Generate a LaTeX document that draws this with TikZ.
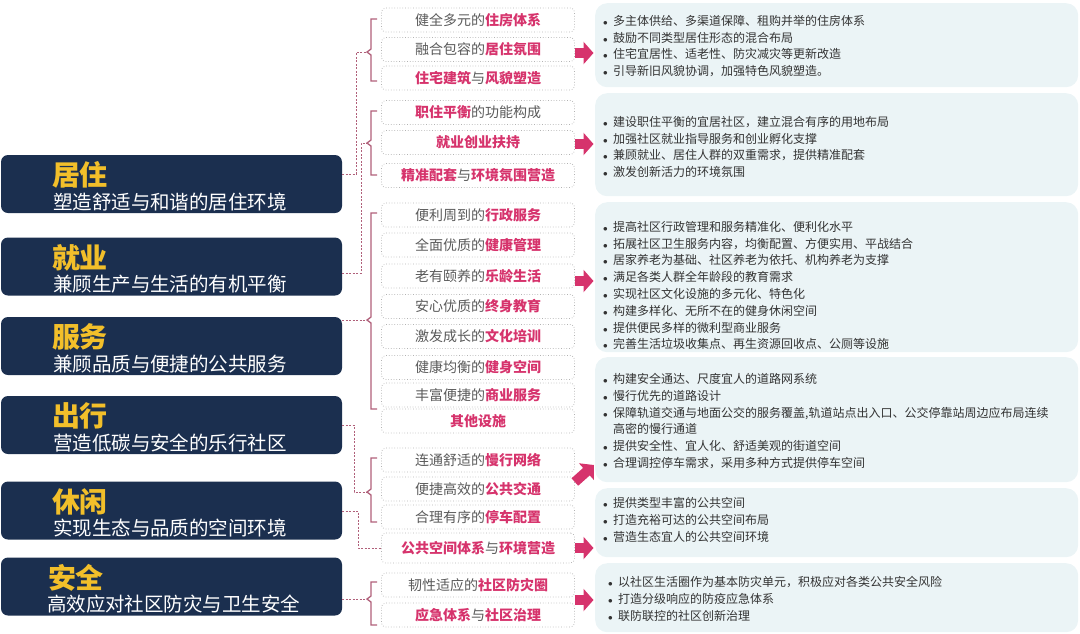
\documentclass[tikz,border=0pt]{standalone}
\usepackage{fontspec}
\setmainfont{Noto Sans CJK SC}
\usetikzlibrary{arrows.meta}
\definecolor{navy}{HTML}{1B2F4F}
\definecolor{gold}{HTML}{F2BF2A}
\definecolor{rose}{HTML}{D6336C}
\definecolor{mauve}{HTML}{B0607A}
\definecolor{itemgray}{HTML}{5A5A5A}
\definecolor{notegray}{HTML}{333333}
\definecolor{panelbg}{HTML}{EBF4F6}
\newcommand{\hl}[1]{{\bfseries\color{rose}#1}}
\newcommand{\bl}{\makebox[10pt][l]{\fontsize{9}{9}\selectfont$\bullet$}}
\def\grpbrace(#1:#2:#3){\draw[brace] (377,#1) -- (371,#1) -- (371,#2-3) -- (367,#2) -- (371,#2+3) -- (371,#3) -- (377,#3);}

\tikzset{
	theme/.style={rectangle, fill=navy, rounded corners=7pt, minimum width=341pt, minimum height=58pt, inner sep=0},
	ttl/.style={anchor=west, inner sep=0, text=gold, font=\fontsize{28}{28}\selectfont\bfseries},
	sub/.style={anchor=west, inner sep=0, text=white, font=\fontsize{19.5}{20}\selectfont},
	item/.style={rectangle, draw=black!30, dotted, line width=0.7pt, rounded corners=4pt, minimum width=193pt, minimum height=24pt, inner sep=0, text=itemgray, font=\fontsize{14}{16}\selectfont},
	panel/.style={rectangle, fill=panelbg, rounded corners=12pt, anchor=north west, minimum width=483pt, inner sep=0},
	note/.style={anchor=north west, align=left, inner sep=0, text=notegray, font=\fontsize{12}{16.8}\selectfont},
	brace/.style={draw=mauve, line width=1.3pt},
	link/.style={draw=mauve, line width=0.9pt, dash pattern=on 2pt off 1.5pt},
	bigarrow/.style={draw=rose, line width=10pt, shorten >=1.5pt, -{Triangle[length=10pt,width=22pt]}}
}

\begin{document}
\begin{tikzpicture}[x=1pt,y=-1pt]
			%%%%% START %%%%%
			\useasboundingbox (0,0) rectangle (1080,633);
			
			% themes
			\node[theme] (t1) at (171.5,184) {};
			\node[ttl] (t1a) at ([xshift=51pt,yshift=9pt]t1.west) {居住};
			\node[sub] (t1b) at ([xshift=52pt,yshift=-18pt]t1.west) {塑造舒适与和谐的居住环境};
			
			\node[theme] (t2) at (171.5,266.5) {};
			\node[ttl] (t2a) at ([xshift=51pt,yshift=9pt]t2.west) {就业};
			\node[sub] (t2b) at ([xshift=52pt,yshift=-18pt]t2.west) {兼顾生产与生活的有机平衡};
			
			\node[theme] (t3) at (171.5,346) {};
			\node[ttl] (t3a) at ([xshift=51pt,yshift=9pt]t3.west) {服务};
			\node[sub] (t3b) at ([xshift=52pt,yshift=-18pt]t3.west) {兼顾品质与便捷的公共服务};
			
			\node[theme] (t4) at (171.5,425) {};
			\node[ttl] (t4a) at ([xshift=51pt,yshift=9pt]t4.west) {出行};
			\node[sub] (t4b) at ([xshift=52pt,yshift=-18pt]t4.west) {营造低碳与安全的乐行社区};
			
			\node[theme] (t5) at (171.5,510.5) {};
			\node[ttl] (t5a) at ([xshift=51pt,yshift=9pt]t5.west) {休闲};
			\node[sub] (t5b) at ([xshift=52pt,yshift=-18pt]t5.west) {实现生态与品质的空间环境};
			
			\node[theme] (t6) at (171.5,586.5) {};
			\node[ttl] (t6a) at ([xshift=47pt,yshift=9pt]t6.west) {安全};
			\node[sub] (t6b) at ([xshift=46pt,yshift=-18pt]t6.west) {高效应对社区防灾与卫生安全};
			
			% items
			\node[item] (b1) at (478,20) {健全多元的\hl{住房体系}};
			\node[item] (b2) at (478,49.5) {融合包容的\hl{居住氛围}};
			\node[item] (b3) at (478,78) {\hl{住宅建筑}与\hl{风貌塑造}};
			
			\node[item] (b4) at (478,112.5) {\hl{职住平衡}的功能构成};
			\node[item] (b5) at (478,142.5) {\hl{就业创业扶持}};
			\node[item] (b6) at (478,175.5) {\hl{精准配套}与\hl{环境氛围营造}};
			
			\node[item] (b7) at (478,215) {便利周到的\hl{行政服务}};
			\node[item] (b8) at (478,245) {全面优质的\hl{健康管理}};
			\node[item] (b9) at (478,276) {老有颐养的\hl{乐龄生活}};
			\node[item] (b10) at (478,306.5) {安心优质的\hl{终身教育}};
			\node[item] (b11) at (478,336.5) {激发成长的\hl{文化培训}};
			\node[item] (b12) at (478,367.5) {健康均衡的\hl{健身空间}};
			\node[item] (b13) at (478,395) {丰富便捷的\hl{商业服务}};
			\node[item] (b14) at (478,421) {\hl{其他设施}};
			
			\node[item] (b15) at (478,460) {连通舒适的\hl{慢行网络}};
			\node[item] (b16) at (478,489) {便捷高效的\hl{公共交通}};
			\node[item] (b17) at (478,517) {合理有序的\hl{停车配置}};
			
			\node[item, minimum height=30pt] (b18) at (478,548) {\hl{公共空间体系}与\hl{环境营造}};
			
			\node[item] (b19) at (478,585) {韧性适应的\hl{社区防灾圈}};
			\node[item] (b20) at (478,615) {\hl{应急体系}与\hl{社区治理}};
			
			% braces
			\grpbrace(19:52:81);
			\grpbrace(111:143:175);
			\grpbrace(213:320:409);
			\grpbrace(458:492:522);
			\grpbrace(582:599:625);
			\coordinate (g1) at (367,52);
			\coordinate (g2) at (367,143);
			\coordinate (g3) at (367,320);
			\coordinate (g4) at (367,492);
			\coordinate (g5) at (367,599);
			
			% links
			\draw[link] (t1.east |- 0,174) -- ++(14,0) |- (g1);
			\draw[link] (t2.east |- 0,273) -- ++(19,0) |- (g2);
			\draw[link] (t3.east |- 0,320) -- (g3);
			\draw[link] (t4.east |- 0,425) -- ++(12,0) |- (g4);
			\draw[link] (t5.east |- 0,511) -- ++(16,0) |- (b18.west);
			\draw[link] (t6.east |- 0,599) -- (g5);
			
			% panels
			\node[panel, minimum height=84pt] (p1) at (595,3) {};
			\node[panel, minimum height=103pt] (p2) at (595,93) {};
			\node[panel, minimum height=150pt] (p3) at (595,202) {};
			\node[panel, minimum height=125pt] (p4) at (595,357) {};
			\node[panel, minimum height=69pt] (p5) at (595,488) {};
			\node[panel, minimum height=69pt] (p6) at (595,563) {};
			
			\node[note] (n1) at (603,15) {\bl 多主体供给、多渠道保障、租购并举的住房体系\\
				\bl 鼓励不同类型居住形态的混合布局\\
				\bl 住宅宜居性、适老性、防灾减灾等更新改造\\
				\bl 引导新旧风貌协调，加强特色风貌塑造。};
			\node[note] (n2) at (603,116) {\bl 建设职住平衡的宜居社区，建立混合有序的用地布局\\
				\bl 加强社区就业指导服务和创业孵化支撑\\
				\bl 兼顾就业、居住人群的双重需求，提供精准配套\\
				\bl 激发创新活力的环境氛围};
			\node[note] (n3) at (603,221) {\bl 提高社区行政管理和服务精准化、便利化水平\\
				\bl 拓展社区卫生服务内容，均衡配置、方便实用、平战结合\\
				\bl 居家养老为基础、社区养老为依托、机构养老为支撑\\
				\bl 满足各类人群全年龄段的教育需求\\
				\bl 实现社区文化设施的多元化、特色化\\
				\bl 构建多样化、无所不在的健身休闲空间\\
				\bl 提供便民多样的微利型商业服务\\
				\bl 完善生活垃圾收集点、再生资源回收点、公厕等设施};
			\node[note] (n4) at (603,373) {\bl 构建安全通达、尺度宜人的道路网系统\\
				\bl 慢行优先的道路设计\\
				\bl 保障轨道交通与地面公交的服务覆盖,轨道站点出入口、公交停靠站周边应布局连续\\
				\hspace*{10pt}高密的慢行通道\\
				\bl 提供安全性、宜人化、舒适美观的街道空间\\
				\bl 合理调控停车需求，采用多种方式提供停车空间};
			\node[note] (n5) at (603,497) {\bl 提供类型丰富的公共空间\\
				\bl 打造充裕可达的公共空间布局\\
				\bl 营造生态宜人的公共空间环境};
			\node[note] (n6) at (608,576) {\bl 以社区生活圈作为基本防灾单元，积极应对各类公共安全风险\\
				\bl 打造分级响应的防疫应急体系\\
				\bl 联防联控的社区创新治理};
			
			% arrows
			\draw[bigarrow] (b2.east |- 0,53) -- (p1.west |- 0,53);
			\draw[bigarrow] (b5.east |- 0,144) -- (p2.west |- 0,144);
			\draw[bigarrow] (b9.east |- 0,281) -- (p3.west |- 0,281);
			\draw[bigarrow] (b16.east |- 0,482) -- (p4.west |- 0,464);
			\draw[bigarrow] (b18.east |- 0,548) -- (p5.west |- 0,548);
			\draw[bigarrow] (b19.east |- 0,600) -- (p6.west |- 0,600);
			
			%%%%% END %%%%%
		\end{tikzpicture}
\end{document}
